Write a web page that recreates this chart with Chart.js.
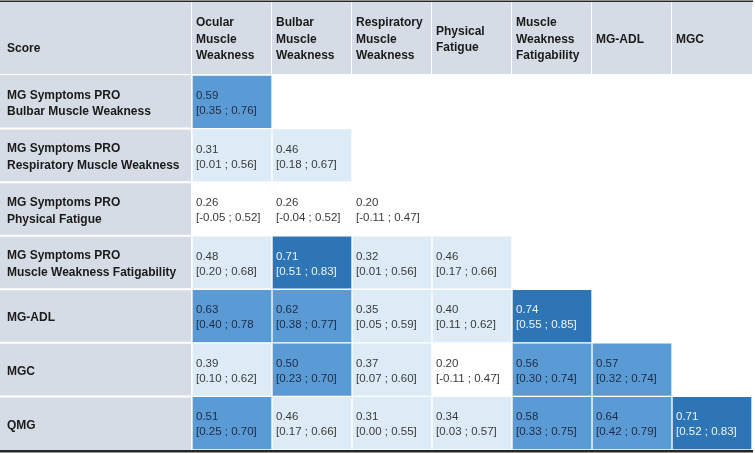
<!DOCTYPE html>
<html>
<head>
<meta charset="utf-8">
<script src="https://cdn.jsdelivr.net/npm/chart.js@4"></script>
<style>
  html, body { margin: 0; padding: 0; background: #fff; }
  canvas { display: block; }
</style>
</head>
<body>
<canvas id="chart" width="755" height="453"></canvas>
<script>
const cornerLabel = 'Score';
const columnLabels = [
  ['Ocular', 'Muscle', 'Weakness'],
  ['Bulbar', 'Muscle', 'Weakness'],
  ['Respiratory', 'Muscle', 'Weakness'],
  ['Physical', 'Fatigue'],
  ['Muscle', 'Weakness', 'Fatigability'],
  ['MG-ADL'],
  ['MGC']
];
const rowLabels = [
  ['MG Symptoms PRO', 'Bulbar Muscle Weakness'],
  ['MG Symptoms PRO', 'Respiratory Muscle Weakness'],
  ['MG Symptoms PRO', 'Physical Fatigue'],
  ['MG Symptoms PRO', 'Muscle Weakness Fatigability'],
  'MG-ADL',
  'MGC',
  'QMG'
];
// correlation coefficient per row, one per column up to the diagonal
const rValues = [
  [0.59],
  [0.31, 0.46],
  [0.26, 0.26, 0.20],
  [0.48, 0.71, 0.32, 0.46],
  [0.63, 0.62, 0.35, 0.40, 0.74],
  [0.39, 0.50, 0.37, 0.20, 0.56, 0.57],
  [0.51, 0.46, 0.31, 0.34, 0.58, 0.64, 0.71]
];
const ciLower = [
  [0.35],
  [0.01, 0.18],
  [-0.05, -0.04, -0.11],
  [0.20, 0.51, 0.01, 0.17],
  [0.40, 0.38, 0.05, 0.11, 0.55],
  [0.10, 0.23, 0.07, -0.11, 0.30, 0.32],
  [0.25, 0.17, 0.00, 0.03, 0.33, 0.42, 0.52]
];
const ciUpper = [
  [0.76],
  [0.56, 0.67],
  [0.52, 0.52, 0.47],
  [0.68, 0.83, 0.56, 0.66],
  [0.78, 0.77, 0.59, 0.62, 0.85],
  [0.62, 0.70, 0.60, 0.47, 0.74, 0.74],
  [0.70, 0.66, 0.55, 0.57, 0.75, 0.79, 0.83]
];
// the source table leaves this one bracket open (row MG-ADL, column Ocular)
const ciUnclosed = ['4-0'];

const FONT = '"Liberation Sans", Arial, sans-serif';
Chart.defaults.font.family = FONT;

function cellColor(r) {
  if (r >= 0.7) return '#2e75b6';
  if (r >= 0.5) return '#5b9bd5';
  if (r >= 0.3) return '#ddebf7';
  return '#ffffff';
}
function textColor(r) {
  if (r >= 0.7) return '#eef3fa';
  if (r >= 0.5) return '#1c2b44';
  return '#3a3a3a';
}

// one dataset per column, each cell a floating bar [c, c+1]
const datasets = columnLabels.map((_, c) => ({
  label: columnLabels[c].join(' '),
  data: rValues.map(row => (c < row.length ? [c, c + 1] : null)),
  backgroundColor: ctx => {
    const v = rValues[ctx.dataIndex][c];
    return v == null ? 'rgba(0,0,0,0)' : cellColor(v);
  },
  borderColor: '#ffffff',
  borderWidth: 1,
  borderSkipped: false,
  grouped: false,
  barPercentage: 1,
  categoryPercentage: 1
}));

const tableFrame = {
  id: 'tableFrame',
  beforeDraw(chart) {
    const { ctx, chartArea, scales: { x, y } } = chart;
    ctx.save();
    ctx.fillStyle = '#d6dce5';
    ctx.fillRect(0, 2, chartArea.right, chartArea.top - 3);
    ctx.fillRect(0, chartArea.top, chartArea.left - 1, chartArea.bottom - chartArea.top);

    ctx.strokeStyle = '#ffffff';
    ctx.lineWidth = 1;
    for (let c = 0; c < columnLabels.length; c++) {
      const px = Math.round(x.getPixelForValue(c)) - 0.5;
      ctx.beginPath();
      ctx.moveTo(px, 2);
      ctx.lineTo(px, chartArea.top);
      ctx.stroke();
    }
    ctx.lineWidth = 2;
    const half = (y.getPixelForValue(1) - y.getPixelForValue(0)) / 2;
    for (let r = 1; r < rowLabels.length; r++) {
      const py = y.getPixelForValue(r) - half;
      ctx.beginPath();
      ctx.moveTo(0, py);
      ctx.lineTo(chartArea.left, py);
      ctx.stroke();
    }
    ctx.restore();
  },
  afterDatasetsDraw(chart) {
    const { ctx } = chart;
    ctx.save();
    ctx.font = '11.5px ' + FONT;
    ctx.textAlign = 'left';
    ctx.textBaseline = 'middle';
    columnLabels.forEach((_, c) => {
      const meta = chart.getDatasetMeta(c);
      meta.data.forEach((bar, r) => {
        if (c >= rValues[r].length) return;
        const v = rValues[r][c];
        const left = Math.min(bar.x, bar.base) + 4;
        const close = ciUnclosed.includes(r + '-' + c) ? '' : ']';
        ctx.fillStyle = textColor(v);
        ctx.fillText(v.toFixed(2), left, bar.y - 6);
        ctx.fillText('[' + ciLower[r][c].toFixed(2) + ' ; ' + ciUpper[r][c].toFixed(2) + close, left, bar.y + 9);
      });
    });
    ctx.restore();
  },
  afterDraw(chart) {
    const { ctx, chartArea, scales: { x } } = chart;
    ctx.save();
    ctx.font = 'bold 12px ' + FONT;
    ctx.fillStyle = '#1a1a1a';
    ctx.textAlign = 'left';
    ctx.textBaseline = 'middle';
    ctx.fillText(cornerLabel, 7, 49);
    const mid = 39.5, gap = 16.5;
    columnLabels.forEach((lines, c) => {
      const px = x.getPixelForValue(c) + 4;
      const start = mid - (lines.length - 1) * gap / 2;
      lines.forEach((t, i) => ctx.fillText(t, px, start + i * gap));
    });
    ctx.fillStyle = '#262626';
    ctx.fillRect(0, 0.5, chartArea.right + 1, 1.5);
    ctx.fillRect(0, chartArea.bottom, chartArea.right + 1, 2.5);
    ctx.restore();
  }
};

new Chart(document.getElementById('chart'), {
  type: 'bar',
  data: { labels: rowLabels, datasets: datasets },
  options: {
    indexAxis: 'y',
    responsive: false,
    animation: false,
    devicePixelRatio: 1,
    layout: { padding: { top: 75, bottom: 3, left: 7, right: 3 } },
    scales: {
      x: { type: 'linear', min: 0, max: columnLabels.length, display: false },
      y: {
        type: 'category',
        grid: { display: false },
        border: { display: false },
        afterFit: scale => {
          scale.width = 185;
          scale.paddingTop = 0;
          scale.paddingBottom = 0;
        },
        ticks: {
          crossAlign: 'far',
          padding: 0,
          labelOffset: 2,
          color: '#1a1a1a',
          font: { size: 12, weight: 'bold', lineHeight: 1.4 }
        }
      }
    },
    plugins: {
      legend: { display: false },
      tooltip: { enabled: false }
    }
  },
  plugins: [tableFrame]
});
</script>
</body>
</html>
